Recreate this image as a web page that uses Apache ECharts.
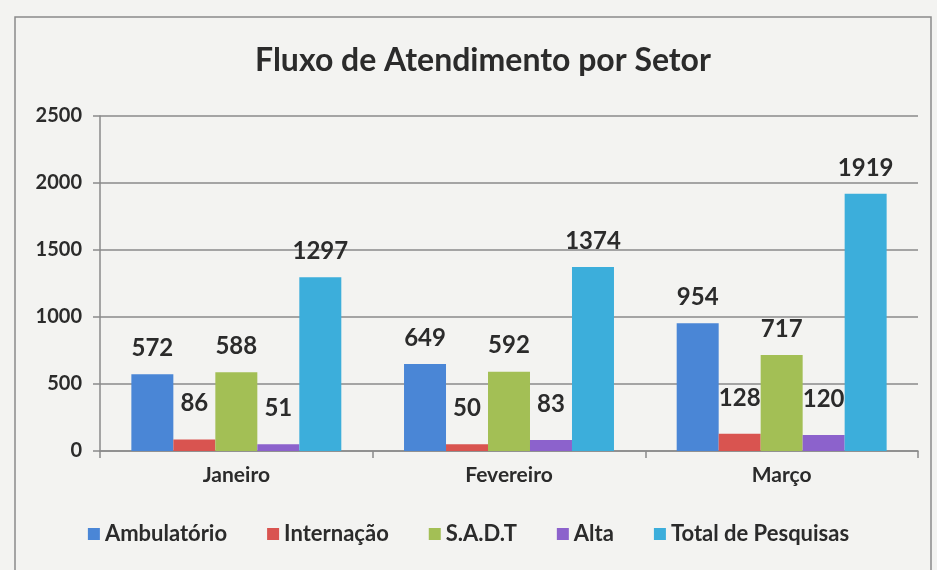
<!DOCTYPE html>
<html><head><meta charset="utf-8">
<script src="https://cdn.jsdelivr.net/npm/echarts@6/dist/echarts.min.js"></script>
<style>html,body{margin:0;padding:0;background:#f3f3f1;}#c{width:937px;height:570px;}</style>
</head><body><div id="c"></div>
<script>
const categories = ['Janeiro', 'Fevereiro', 'Março'];
const ambulatorio = [572, 649, 954];
const internacao = [86, 50, 128];
const sadt = [588, 592, 717];
const alta = [51, 83, 120];
const totalPesquisas = [1297, 1374, 1919];
const seriesNames = ['Ambulatório', 'Internação', 'S.A.D.T', 'Alta', 'Total de Pesquisas'];
const seriesData = [ambulatorio, internacao, sadt, alta, totalPesquisas];
const colors = ['#4a86d6', '#d95450', '#a3bf55', '#8c62cc', '#3caedb'];

const chart = echarts.init(document.getElementById('c'));
const font = 'Lato, "Open Sans", sans-serif';
chart.setOption({
  backgroundColor: '#f3f3f1',
  textStyle: { fontFamily: font },
  graphic: [{ type: 'rect', shape: { x: 15, y: 17, width: 916, height: 560 }, style: { fill: 'none', stroke: '#8a8a8a', lineWidth: 1.5 }, silent: true }],
  title: { text: 'Fluxo de Atendimento por Setor', left: 478, top: 40, textAlign: 'center',
    textStyle: { fontFamily: font, fontSize: 32, fontWeight: 'bold', color: '#2b2b2b' } },
  legend: { bottom: 20, left: 'center', itemWidth: 12, itemHeight: 12, itemGap: 40, icon: 'rect',
    textStyle: { fontFamily: font, fontSize: 22, fontWeight: 'bold', color: '#2b2b2b', padding: [0,0,0,0] } },
  grid: { left: 100, right: 19, top: 116, bottom: 119 },
  xAxis: { type: 'category', data: categories,
    axisLine: { lineStyle: { color: '#8a8a8a', width: 1.5 } },
    axisTick: { show: true, length: 7, lineStyle: { color: '#8a8a8a', width: 1.5 } },
    axisLabel: { fontFamily: font, fontSize: 21, fontWeight: 'bold', color: '#2b2b2b', margin: 14 } },
  yAxis: { type: 'value', min: 0, max: 2500, interval: 500,
    axisLine: { show: true, lineStyle: { color: '#8a8a8a', width: 1.5 } },
    axisTick: { show: true, length: 7, lineStyle: { color: '#8a8a8a', width: 1.5 } },
    splitLine: { lineStyle: { color: '#8a8a8a', width: 1.5 } },
    axisLabel: { fontFamily: font, fontSize: 20, fontWeight: 'bold', color: '#2b2b2b', margin: 18, formatter: v => String(v) } },
  series: seriesNames.map((n, i) => ({
    name: n, type: 'bar', data: seriesData[i], barGap: '0%', barCategoryGap: '23%',
    itemStyle: { color: colors[i] },
    label: { show: true, position: 'top', distance: i === 1 || i === 3 ? 24 : 14, fontFamily: font, fontSize: 24, fontWeight: 'bold', color: '#2b2b2b' }
  }))
});
</script></body></html>
